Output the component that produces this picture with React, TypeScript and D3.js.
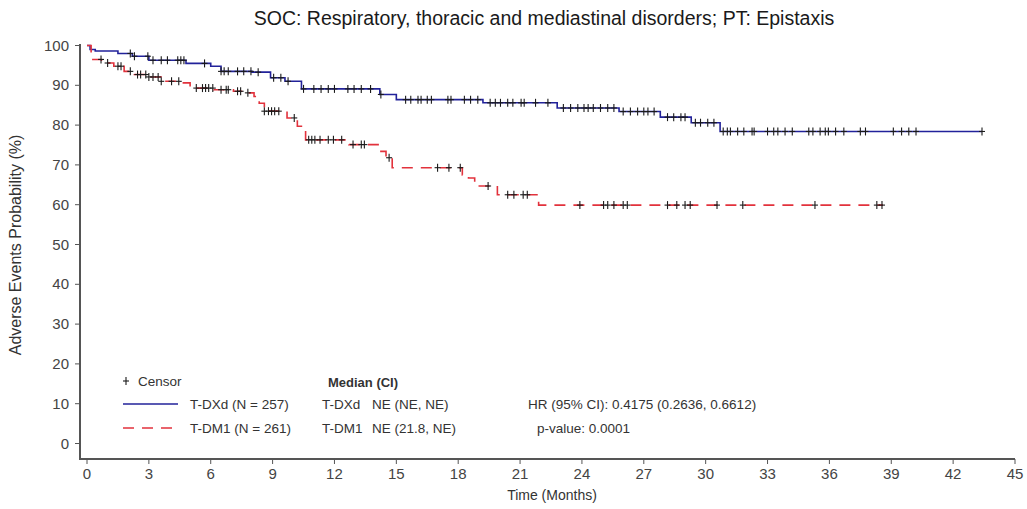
import React from "react";
import * as d3 from "d3";

// Kaplan-Meier step data: event times (months) and survival probability (%)
const dxdTimes = [0, 0.15, 0.4, 1.5, 2.2, 3.0, 4.8, 6.0, 6.5, 8.0, 8.9, 9.6, 10.4, 14.2, 15.0, 19.2, 22.8, 25.8, 27.8, 29.3, 30.7];
const dxdSurv = [100, 99.0, 98.6, 98.0, 97.3, 96.3, 95.5, 94.8, 93.5, 93.3, 91.9, 91.0, 89.1, 87.7, 86.4, 85.6, 84.3, 83.4, 82.0, 80.6, 78.4];
const dxdEnd = 43.4;

const dm1Times = [0, 0.2, 0.7, 1.3, 1.8, 2.3, 2.95, 3.6, 4.55, 5.0, 6.15, 7.1, 7.8, 8.1, 8.35, 8.6, 9.7, 10.2, 10.6, 12.7, 14.2, 14.5, 14.8, 18.2, 18.5, 18.8, 19.9, 21.9];
const dm1Surv = [100, 96.5, 95.6, 94.8, 93.5, 92.7, 92.1, 91.0, 90.6, 89.3, 88.9, 88.5, 88.1, 87.2, 85.5, 83.5, 81.8, 79.7, 76.3, 75.1, 73.4, 71.8, 69.3, 67.5, 66.7, 64.7, 62.5, 59.9];
const dm1End = 38.6;

// Censoring times (months)
const dxdCensor = [2.1, 2.3, 2.95, 3.2, 3.6, 3.9, 4.4, 4.55, 4.7, 5.7, 6.5, 6.65, 6.85, 7.3, 7.6, 7.95, 8.3, 9.05, 9.4, 9.75, 10.5, 11.0, 11.35, 11.7, 12.0, 12.65, 12.95, 13.3, 13.75, 14.25, 15.45, 15.7, 16.05, 16.2, 16.5, 16.7, 17.5, 17.65, 18.3, 18.6, 18.95, 19.55, 19.8, 20.05, 20.4, 20.65, 21.05, 21.2, 21.75, 22.35, 23.1, 23.45, 23.8, 24.1, 24.3, 24.55, 24.9, 25.25, 25.55, 26.0, 26.35, 26.7, 27.0, 27.2, 27.5, 28.15, 28.45, 28.8, 29.0, 29.5, 29.75, 30.1, 30.4, 30.85, 31.05, 31.2, 31.55, 31.85, 32.25, 32.35, 33.0, 33.3, 33.5, 33.85, 34.2, 35.0, 35.2, 35.55, 35.8, 35.95, 36.3, 36.7, 37.5, 37.75, 39.1, 39.5, 39.85, 40.2, 43.4];
const dm1Censor = [0.68, 1.0, 1.5, 1.65, 2.1, 2.45, 2.6, 2.85, 3.0, 3.2, 3.45, 3.6, 4.1, 4.45, 5.3, 5.6, 5.75, 5.9, 6.1, 6.5, 6.75, 6.85, 7.3, 7.45, 7.8, 8.6, 8.8, 8.95, 9.1, 9.3, 10.05, 10.75, 10.9, 11.05, 11.3, 11.7, 11.95, 12.35, 12.9, 13.3, 13.45, 14.65, 17.0, 17.55, 18.1, 19.45, 20.4, 20.7, 21.15, 21.35, 23.9, 25.05, 25.25, 25.55, 26.0, 26.2, 28.15, 28.6, 29.0, 29.25, 30.55, 31.8, 35.3, 38.3, 38.55];

const xTicks = [0, 3, 6, 9, 12, 15, 18, 21, 24, 27, 30, 33, 36, 39, 42, 45];
const yTicks = [0, 10, 20, 30, 40, 50, 60, 70, 80, 90, 100];

const seriesNames = ["T-DXd (N = 257)", "T-DM1 (N = 261)"];
const medianRows = [["T-DXd", "NE (NE, NE)"], ["T-DM1", "NE (21.8, NE)"]];
const statRows = ["HR (95% CI): 0.4175 (0.2636, 0.6612)", "p-value: 0.0001"];

const W = 1027;
const H = 509;
const FONT = "'Liberation Sans', Arial, sans-serif";
const BLUE = "#22229a";
const RED = "#e2323c";
const DASH = "11 8";

const x = d3.scaleLinear().domain([0, 45]).range([87, 1015]);
const y = d3.scaleLinear().domain([0, 100]).range([443.5, 45.5]);

function stepPoints(times: number[], surv: number[], end: number): [number, number][] {
  const pts: [number, number][] = times.map((t, i) => [t, surv[i]]);
  pts.push([end, surv[surv.length - 1]]);
  return pts;
}

function survAt(times: number[], surv: number[], t: number): number {
  let v = surv[0];
  for (let i = 0; i < times.length; i++) {
    if (times[i] <= t) v = surv[i];
  }
  return v;
}

const line = d3
  .line<[number, number]>()
  .x((d) => x(d[0]))
  .y((d) => y(d[1]))
  .curve(d3.curveStepAfter);

function Censors({ times, surv, marks }: { times: number[]; surv: number[]; marks: number[] }) {
  return (
    <g stroke="#1a1a1a" strokeWidth={1.1}>
      {marks.map((t, i) => {
        const cx = x(t);
        const cy = y(survAt(times, surv, t));
        return (
          <g key={i}>
            <line x1={cx} x2={cx} y1={cy - 4} y2={cy + 4} />
            <line x1={cx - 3} x2={cx + 3} y1={cy} y2={cy} />
          </g>
        );
      })}
    </g>
  );
}

export default function App() {
  const dxdPath = line(stepPoints(dxdTimes, dxdSurv, dxdEnd)) || "";
  const dm1Path = line(stepPoints(dm1Times, dm1Surv, dm1End)) || "";
  const axisX = 80;
  const axisY = 459;

  return (
    <svg
      width={W}
      height={H}
      style={{ position: "absolute", left: 0, top: 0, background: "#fff" }}
      fontFamily={FONT}
    >
      <rect width={W} height={H} fill="#fff" />
      <text x={544} y={25} textAnchor="middle" fontSize={19.5} fill="#1a1a1a">
        SOC: Respiratory, thoracic and mediastinal disorders; PT: Epistaxis
      </text>

      {/* axes */}
      <line x1={axisX} x2={axisX} y1={44} y2={axisY} stroke="#555" strokeWidth={2} />
      <line x1={axisX - 1} x2={x(45)} y1={axisY} y2={axisY} stroke="#555" strokeWidth={2} />
      {yTicks.map((v) => (
        <g key={v}>
          <line x1={axisX - 5} x2={axisX} y1={y(v)} y2={y(v)} stroke="#555" strokeWidth={1} />
          <text x={axisX - 11} y={y(v) + 5} textAnchor="end" fontSize={15} fill="#444">
            {v}
          </text>
        </g>
      ))}
      {xTicks.map((v) => (
        <g key={v}>
          <line x1={x(v)} x2={x(v)} y1={axisY} y2={axisY + 5} stroke="#555" strokeWidth={1} />
          <text x={x(v)} y={axisY + 20} textAnchor="middle" fontSize={15} fill="#444">
            {v}
          </text>
        </g>
      ))}
      <text x={552} y={500} textAnchor="middle" fontSize={14} fill="#333">
        Time (Months)
      </text>
      <text
        transform={`translate(21,245) rotate(-90)`}
        textAnchor="middle"
        fontSize={16}
        fill="#333"
      >
        Adverse Events Probability (%)
      </text>

      {/* curves */}
      <path d={dxdPath} fill="none" stroke={BLUE} strokeWidth={1.6} />
      <path d={dm1Path} fill="none" stroke={RED} strokeWidth={1.6} strokeDasharray={DASH} />
      <Censors times={dxdTimes} surv={dxdSurv} marks={dxdCensor} />
      <Censors times={dm1Times} surv={dm1Surv} marks={dm1Censor} />

      {/* legend */}
      <g fontSize={13.5} fill="#333">
        <g stroke="#1a1a1a" strokeWidth={1.1}>
          <line x1={126} x2={126} y1={377} y2={385} />
          <line x1={123} x2={129} y1={381} y2={381} />
        </g>
        <text x={138} y={386}>Censor</text>
        <line x1={123} x2={178} y1={404} y2={404} stroke={BLUE} strokeWidth={1.6} />
        <line x1={123} x2={178} y1={428} y2={428} stroke={RED} strokeWidth={1.6} strokeDasharray={DASH} />
        <text x={190} y={409}>{seriesNames[0]}</text>
        <text x={190} y={433}>{seriesNames[1]}</text>
        <text x={328} y={387} fontWeight="bold" fontSize={13}>Median (CI)</text>
        {medianRows.map((r, i) => (
          <g key={r[0]}>
            <text x={322} y={409 + i * 24}>{r[0]}</text>
            <text x={372} y={409 + i * 24}>{r[1]}</text>
          </g>
        ))}
        <text x={528} y={409}>{statRows[0]}</text>
        <text x={537} y={433}>{statRows[1]}</text>
      </g>
    </svg>
  );
}
